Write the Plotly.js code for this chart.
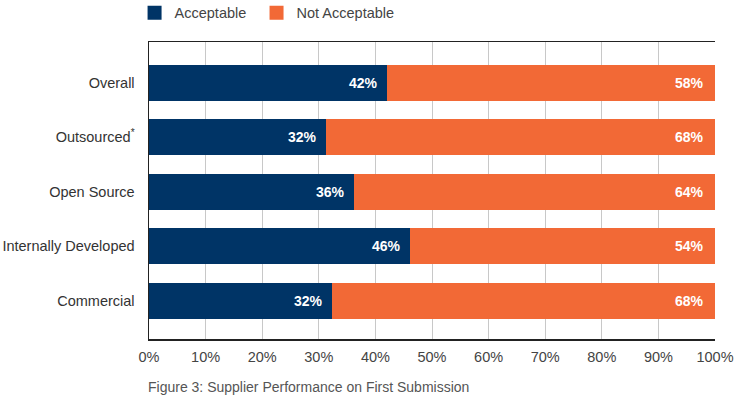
<!DOCTYPE html>
<html><head><meta charset="utf-8">
<script src="https://cdn.plot.ly/plotly-3.0.1.min.js"></script>
<style>html,body{margin:0;padding:0;background:#fff}#chart{width:735px;height:400px}</style>
</head><body><div id="chart"></div>
<script>
// Categories from bottom to top
const categories = ["Commercial", "Internally Developed", "Open Source", "Outsourced<sup>*</sup>", "Overall"];
const acceptable = [32.3, 46.2, 36.3, 31.2, 42.1];
const notAcceptable = [67.7, 53.8, 63.7, 68.8, 57.9];
const acceptableLabels = ["32%", "46%", "36%", "32%", "42%"];
const notAcceptableLabels = ["68%", "54%", "64%", "68%", "58%"];
const seriesNames = ["Acceptable", "Not Acceptable"];
const tickVals = [0, 10, 20, 30, 40, 50, 60, 70, 80, 90, 100];
const tickText = ["0%", "10%", "20%", "30%", "40%", "50%", "60%", "70%", "80%", "90%", "100%"];

const NAVY = "#003466", ORANGE = "#F26936";
const FONT = "Liberation Sans, Arial, sans-serif";

const traces = [
  {type: "bar", orientation: "h", name: seriesNames[0], y: categories, x: acceptable,
   marker: {color: NAVY}, width: 0.66, hoverinfo: "skip", showlegend: false},
  {type: "bar", orientation: "h", name: seriesNames[1], y: categories, x: notAcceptable,
   marker: {color: ORANGE}, width: 0.66, hoverinfo: "skip", showlegend: false},
  // legend-only entries with larger square swatches
  {type: "scatter", mode: "markers", name: seriesNames[0], x: [null], y: [null], legend: "legend",
   marker: {symbol: "square", size: 14, color: NAVY}, hoverinfo: "skip"},
  {type: "scatter", mode: "markers", name: seriesNames[1], x: [null], y: [null], legend: "legend2",
   marker: {symbol: "square", size: 14, color: ORANGE}, hoverinfo: "skip"}
];

const annotations = [];
categories.forEach((c, i) => {
  annotations.push({x: acceptable[i], y: c, xref: "x", yref: "y", text: acceptableLabels[i],
    showarrow: false, xanchor: "right", xshift: -7, font: {family: FONT, size: 14, color: "#fff", weight: "bold"}});
  annotations.push({x: acceptable[i] + notAcceptable[i], y: c, xref: "x", yref: "y", text: notAcceptableLabels[i],
    showarrow: false, xanchor: "right", xshift: -9, font: {family: FONT, size: 14, color: "#fff", weight: "bold"}});
});
annotations.push({x: 0, y: 0, xref: "paper", yref: "paper", xanchor: "left", yanchor: "top",
  yshift: -38, xshift: -3, text: "Figure 3: Supplier Performance on First Submission", showarrow: false,
  font: {family: FONT, size: 14, color: "#555"}});

const legendBase = {orientation: "h", xanchor: "left", y: 1.152, yanchor: "top",
  font: {family: FONT, size: 14.5, color: "#444"}, bgcolor: "rgba(0,0,0,0)"};

const layout = {
  width: 735, height: 400,
  margin: {l: 149, r: 20, t: 42, b: 61, autoexpand: false},
  paper_bgcolor: "#fff", plot_bgcolor: "#fff",
  barmode: "stack",
  font: {family: FONT, size: 14, color: "#444"},
  xaxis: {range: [0, 100], tickvals: tickVals, ticktext: tickText, showgrid: true, gridcolor: "#c8c8c8", gridwidth: 1,
    showline: true, linecolor: "#222", linewidth: 1.5, mirror: true, zeroline: false, ticks: "", ticklen: 0,
    ticklabelstandoff: 4, tickfont: {size: 14.5, color: "#444"}, fixedrange: true, automargin: false},
  yaxis: {type: "category", categoryorder: "array", categoryarray: categories, range: [-0.7, 4.75],
    showgrid: false, showline: true, linecolor: "#222", linewidth: 1.5,
    zeroline: false, ticks: "", ticklabelstandoff: 10, tickfont: {size: 14.5, color: "#333"}, fixedrange: true, automargin: false},
  showlegend: true,
  legend: Object.assign({}, legendBase, {x: -0.0255}),
  legend2: Object.assign({}, legendBase, {x: 0.190}),
  annotations: annotations
};
Plotly.newPlot("chart", traces, layout, {displayModeBar: false, staticPlot: true});
</script></body></html>
